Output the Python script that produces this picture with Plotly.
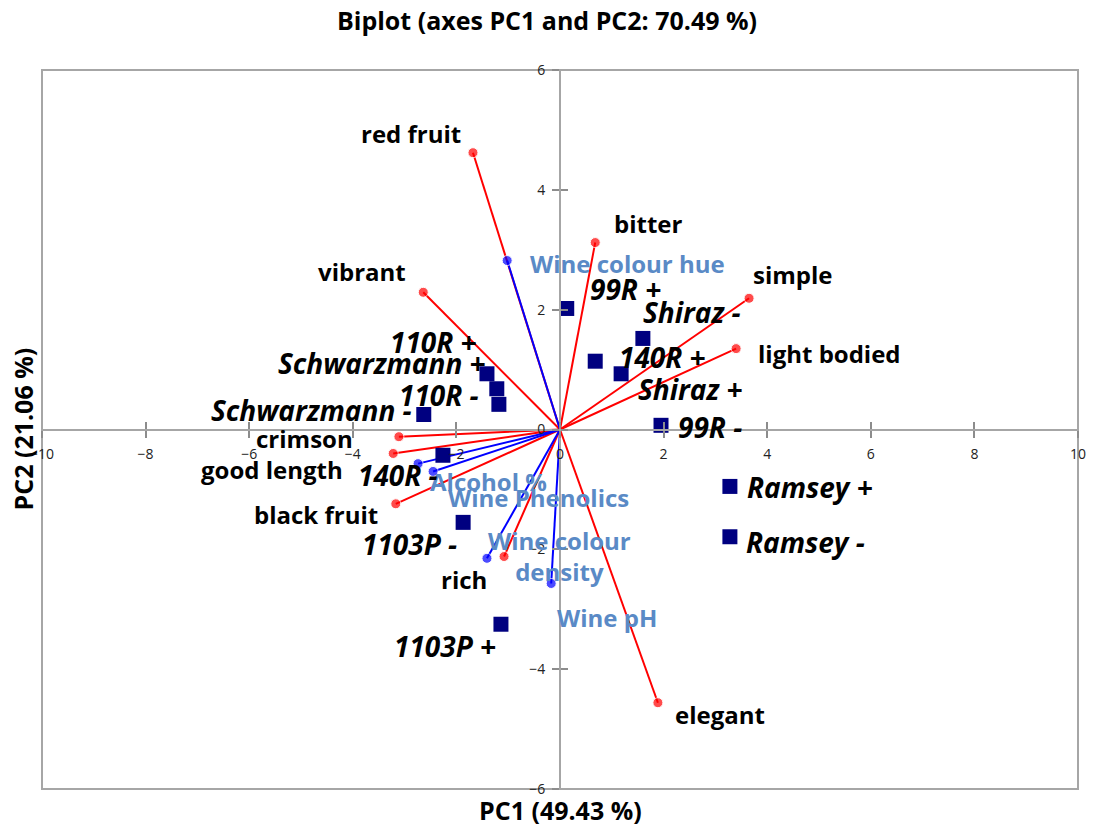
import plotly.graph_objects as go

# Variable loadings (sensory attributes, red) scaled for the biplot
sens_names = ["red fruit", "bitter", "vibrant", "simple", "light bodied",
              "crimson", "good length", "black fruit", "rich", "elegant"]
sens_pc1 = [-1.68, 0.68, -2.64, 3.65, 3.40, -3.11, -3.22, -3.17, -1.08, 1.89]
sens_pc2 = [4.62, 3.12, 2.29, 2.19, 1.35, -0.12, -0.40, -1.24, -2.12, -4.56]

# Wine chemistry variables (blue)
chem_names = ["Wine colour hue", "Alcohol %", "Wine Phenolics",
              "Wine colour<br>density", "Wine pH"]
chem_pc1 = [-1.02, -2.74, -2.45, -1.41, -0.17]
chem_pc2 = [2.82, -0.57, -0.70, -2.15, -2.57]

# Observations (rootstock / scion treatments)
obs_names = ["99R +", "Shiraz -", "140R +", "Shiraz +", "99R -", "Ramsey +",
             "Ramsey -", "110R +", "Schwarzmann +", "110R -", "Schwarzmann -",
             "140R -", "1103P -", "1103P +"]
obs_pc1 = [0.13, 1.60, 0.68, 1.18, 1.95, 3.28, 3.28, -1.41, -1.22, -1.18,
           -2.63, -2.26, -1.87, -1.14]
obs_pc2 = [2.02, 1.52, 1.14, 0.93, 0.07, -0.95, -1.79, 0.93, 0.68, 0.42,
           0.25, -0.43, -1.55, -3.25]

x_ticks = [-10, -8, -6, -4, -2, 0, 2, 4, 6, 8, 10]
y_ticks = [-6, -4, -2, 0, 2, 4, 6]

# label offsets in pixels (x, y-up) relative to each point
sens_off = [(-62, 19), (53, 19), (-61, 21), (44, 24), (93, -5),
            (-94, -2), (-121, -16), (-80, -11), (-40, -23), (62, -12)]
chem_off = [(120, -3), (70, -18), (105, -26), (73, 2), (56, -34)]
obs_off = [(59, 19), (49, 26), (67, 4), (69, -15), (49, -2), (80, -1),
           (76, -5), (-53, 32), (-115, 26), (-60, 9), (-112, 5),
           (-45, -20), (-54, -22), (-56, -22)]

RED = "#ff0000"
BLUE = "#0000ff"
NAVY = "#000080"
LABEL_BLUE = "#5a8ac6"
FONT = "'Open Sans', 'Noto Sans', sans-serif"
AXIS_GREY = "#a6a6a6"

fig = go.Figure()

for name, vx, vy in zip(sens_names, sens_pc1, sens_pc2):
    fig.add_trace(go.Scatter(
        x=[0, vx], y=[0, vy], mode="lines+markers", name=name,
        line=dict(color=RED, width=2),
        marker=dict(color=RED, size=[0, 10]),
        showlegend=False, hoverinfo="skip"))

for name, vx, vy in zip(chem_names, chem_pc1, chem_pc2):
    fig.add_trace(go.Scatter(
        x=[0, vx], y=[0, vy], mode="lines+markers", name=name,
        line=dict(color=BLUE, width=2),
        marker=dict(color=BLUE, size=[0, 10]),
        showlegend=False, hoverinfo="skip"))

fig.add_trace(go.Scatter(
    x=obs_pc1, y=obs_pc2, mode="markers", name="Observations",
    marker=dict(color=NAVY, size=15, symbol="square"),
    showlegend=False, text=obs_names))

annotations = []
for name, vx, vy, (dx, dy) in zip(sens_names, sens_pc1, sens_pc2, sens_off):
    annotations.append(dict(x=vx, y=vy, text="<b>%s</b>" % name, showarrow=False,
                            xshift=dx, yshift=dy,
                            font=dict(family=FONT, size=24, color="#000000")))
for name, vx, vy, (dx, dy) in zip(chem_names, chem_pc1, chem_pc2, chem_off):
    annotations.append(dict(x=vx, y=vy, text="<b>%s</b>" % name, showarrow=False,
                            xshift=dx, yshift=dy,
                            font=dict(family=FONT, size=24, color=LABEL_BLUE)))
for name, vx, vy, (dx, dy) in zip(obs_names, obs_pc1, obs_pc2, obs_off):
    annotations.append(dict(x=vx, y=vy, text="<b><i>%s</i></b>" % name,
                            showarrow=False, xshift=dx, yshift=dy,
                            font=dict(family=FONT, size=28, color="#000000")))

# axis titles sit at the frame edges since the axes cross at the origin
annotations.append(dict(xref="paper", yref="paper", x=0.5, y=0, yshift=-21,
                        xanchor="center", yanchor="middle",
                        text="<b>PC1 (49.43 %)</b>", showarrow=False,
                        font=dict(family=FONT, size=25, color="#000000")))
annotations.append(dict(xref="paper", yref="paper", x=0, y=0.5, xshift=-20,
                        xanchor="center", yanchor="middle",
                        text="<b>PC2 (21.06 %)</b>", showarrow=False, textangle=-90,
                        font=dict(family=FONT, size=25, color="#000000")))

axis_common = dict(showgrid=False, zeroline=False, showline=True,
                   linecolor=AXIS_GREY, linewidth=2,
                   tickcolor="#8c8c8c", tickwidth=1.5, ticklen=7,
                   tickfont=dict(family=FONT, size=14, color="#222222"),
                   anchor="free", position=0.5)

fig.update_layout(
    width=1094, height=830,
    margin=dict(l=42, r=16, t=70, b=41, autoexpand=False),
    paper_bgcolor="white", plot_bgcolor="white",
    title=dict(text="<b>Biplot (axes PC1 and PC2: 70.49 %)</b>",
               x=0.5, xanchor="center", y=0.975, yanchor="middle",
               font=dict(family=FONT, size=25, color="#000000")),
    xaxis=dict(range=[-10, 10], tickvals=x_ticks, ticks="outside",
               ticklabelstandoff=5, **axis_common),
    yaxis=dict(range=[-6, 6], tickvals=y_ticks, ticks="outside",
               ticklabelstandoff=4, **axis_common),
    xaxis2=dict(range=[-10, 10], tickvals=x_ticks, ticks="inside",
                showticklabels=False, overlaying="x", **axis_common),
    yaxis2=dict(range=[-6, 6], tickvals=y_ticks, ticks="inside",
                showticklabels=False, overlaying="y", **axis_common),
    annotations=annotations,
    shapes=[dict(type="rect", xref="paper", yref="paper", x0=0, y0=0, x1=1, y1=1,
                 line=dict(color=AXIS_GREY, width=2), layer="below")],
)

# invisible trace to activate the overlaid tick axes
fig.add_trace(go.Scatter(x=[0], y=[0], xaxis="x2", yaxis="y2", mode="markers",
                         marker=dict(opacity=0), showlegend=False, hoverinfo="skip"))

fig.write_html("out.html")
